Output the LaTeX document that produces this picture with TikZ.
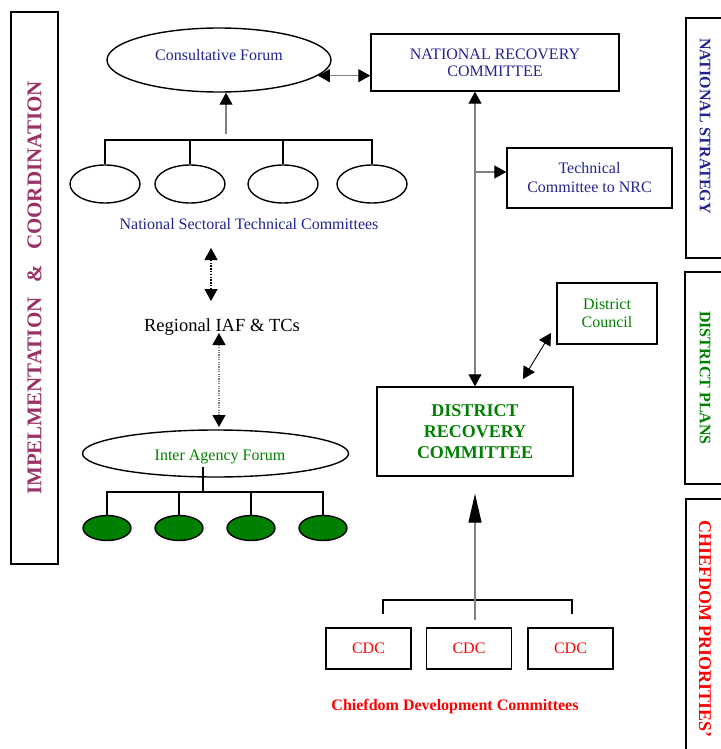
\documentclass[tikz,border=0pt]{standalone}
\usepackage{fontspec}
\setmainfont{Liberation Serif}
\usetikzlibrary{arrows.meta,shapes.geometric,calc}
\definecolor{navyt}{RGB}{35,35,145}
\definecolor{greent}{RGB}{0,128,0}
\definecolor{redt}{RGB}{255,0,0}
\definecolor{plumt}{RGB}{153,51,102}
\definecolor{grayl}{RGB}{128,128,128}
\begin{document}
\begin{tikzpicture}[x=1pt,y=-1pt,
  box/.style={draw, line width=1.4pt, rectangle, inner sep=0pt},
  ell/.style={draw, line width=1.4pt, ellipse, inner sep=0pt},
  tsix/.style={font=\fontsize{16}{18}\selectfont, align=center, inner sep=0pt},
  conn/.style={draw=grayl, line width=1.2pt},
  blk/.style={draw=black, line width=1.4pt},
  >={Triangle[width=13pt,length=12pt,color=black]}]
\useasboundingbox (0,0) rectangle (720,749);

% side bands
\node[box, rotate=90, minimum width=552pt, minimum height=47pt, text=plumt,
  font=\fontsize{21}{23}\selectfont\bfseries] (impl) at (34.5,288)
  {IMPELMENTATION\hspace{15pt}\&\hspace{15pt}COORDINATION};
\draw[line width=1.4pt] (722,18) -- (686,18) -- (686,258) -- (722,258);
\node[rotate=-90, text=navyt, font=\fontsize{16}{18}\selectfont\bfseries, inner sep=0pt] (nstrat) at (705,126) {NATIONAL STRATEGY};
\draw[line width=1.4pt] (722,272) -- (685,272) -- (685,484) -- (722,484);
\node[rotate=-90, text=greent, font=\fontsize{16}{18}\selectfont\bfseries, inner sep=0pt] (dplans) at (705,378) {DISTRICT PLANS};
\draw[line width=1.4pt] (722,499) -- (686,499) -- (686,751);
\node[rotate=-90, text=redt, font=\fontsize{18}{20}\selectfont\bfseries, inner sep=0pt] (cprio) at (705,629) {CHIEFDOM PRIORITIES'};

% consultative forum
\node[ell, minimum width=224pt, minimum height=64pt] (cf) at (219,60) {};
\node[tsix, text=navyt] (cft) at (219,55) {Consultative Forum};
\node[box, minimum width=248pt, minimum height=57pt, tsix, text=navyt,
  font=\fontsize{16}{17}\selectfont] (nrc) at (495,62.5) {NATIONAL RECOVERY\\COMMITTEE};
\draw[conn, <->] (cf.-9) -- (cf.-9 -| nrc.west);

% national sectoral technical committees
\foreach \i/\x in {1/105,2/190,3/283,4/372}{
  \node[ell, minimum width=70pt, minimum height=38pt] (e\i) at (\x,184) {};
}
\coordinate (nbar) at (226,140);
\draw[blk, line width=1.3pt] (e1.north) -- (e1.north |- nbar) -| (e4.north);
\draw[blk, line width=1.3pt] (e2.north) -- (e2.north |- nbar);
\draw[blk, line width=1.3pt] (e3.north) -- (e3.north |- nbar);
\coordinate (cfin) at (226,134);
\draw[conn, ->] (cfin) -- (cfin |- cf.south);
\node[tsix, text=navyt] (nstc) at (249,224) {National Sectoral Technical Committees};

% regional
\node[inner sep=0pt, font=\fontsize{18.5}{20}\selectfont] (reg) at (222,327) {Regional IAF \& TCs};
\coordinate (d1a) at (211,248);
\coordinate (d1b) at (211,301);
\draw[black, line width=1.2pt, dash pattern=on 1.4pt off 1.4pt, <->] (d1a) -- (d1b);
\coordinate (d2a) at (219,333);
\coordinate (d2b) at (219,427);
\draw[grayl, line width=1.2pt, dash pattern=on 1.2pt off 1.2pt, <->] (d2a) -- (d2b);

% inter agency forum
\node[ell, minimum width=266pt, minimum height=47pt] (iaf) at (215.5,453.5) {};
\node[tsix, text=greent] (iaft) at (220,457) {Inter Agency Forum};
\foreach \i/\x in {1/107,2/179,3/251,4/323}{
  \node[ell, fill=greent, minimum width=48pt, minimum height=25pt] (g\i) at (\x,528) {};
}
\coordinate (ibar) at (203,492);
\coordinate (istart) at (203,467);
\draw[blk, line width=1.3pt] (istart) -- (ibar);
\draw[blk, line width=1.3pt] (g1.north) -- (g1.north |- ibar) -| (g4.north);
\draw[blk, line width=1.3pt] (g2.north) -- (g2.north |- ibar);
\draw[blk, line width=1.3pt] (g3.north) -- (g3.north |- ibar);

% technical committee and district
\node[box, minimum width=165pt, minimum height=60pt, tsix, text=navyt,
  font=\fontsize{16}{19}\selectfont] (tech) at (589.5,178) {Technical\\Committee to NRC};
\node[box, minimum width=196pt, minimum height=89pt, tsix, text=greent,
  font=\fontsize{18}{21}\selectfont\bfseries] (drc) at (475,431.5) {DISTRICT\\RECOVERY\\COMMITTEE};
\draw[conn, <->] (drc.north |- nrc.south) -- (drc.north);
\coordinate (br) at (475,172);
\draw[conn, ->] (br) -- (br -| tech.west);
\node[box, minimum width=100pt, minimum height=61pt, tsix, text=greent] (dc) at (607,313.5) {District\\Council};
\coordinate (dca) at (523,379);
\coordinate (dcb) at (551,333);
\draw[black, line width=0.9pt, <->] (dca) -- (dcb);

% chiefdom development committees
\foreach \i/\x in {1/368.5,2/469,3/570.5}{
  \node[box, minimum width=85pt, minimum height=41pt, tsix, text=redt] (cdc\i) at (\x,648.5) {CDC};
}
\coordinate (cbl) at (383,600);
\coordinate (cbr) at (572,600);
\draw[blk, line width=1.3pt] ($(cbl)+(0,14)$) -- (cbl) -- (cbr) -- ($(cbr)+(0,14)$);
\coordinate (cup) at (475,620);
\draw[conn, -{Triangle[width=13pt,length=29pt,color=black]}] (cup) -- ($(drc.south)+(0,17)$);
\node[tsix, text=redt, font=\fontsize{16}{18}\selectfont\bfseries] (cdct) at (455,707) {Chiefdom Development Committees};
\end{tikzpicture}
\end{document}
